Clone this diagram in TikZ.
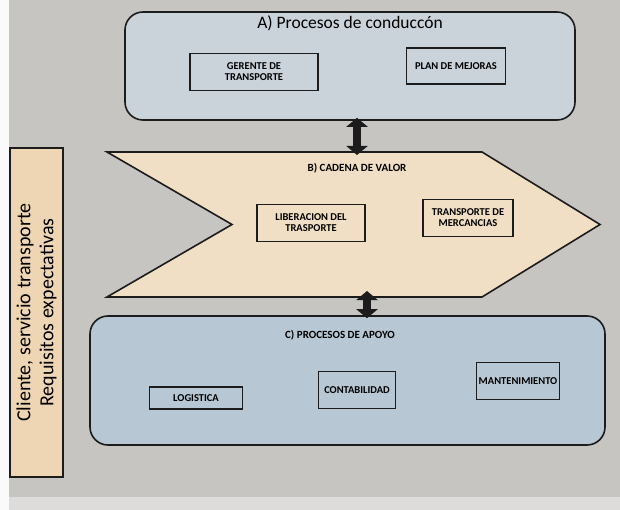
\documentclass[tikz,border=0pt]{standalone}
\usepackage{fontspec}
\setmainfont{Carlito}
\usetikzlibrary{positioning,arrows.meta}
\definecolor{fondo}{HTML}{C7C5C2}
\definecolor{azulA}{HTML}{CAD3DA}
\definecolor{azulC}{HTML}{B7C7D3}
\definecolor{crema}{HTML}{F1DFC5}
\definecolor{cremaL}{HTML}{EED6B4}
\definecolor{tinta}{HTML}{1C1C1C}

\begin{document}
\begin{tikzpicture}[x=1pt, y=-1pt, line width=1.6pt,
  grupo/.style = {draw=tinta, rounded corners=18pt},
  caja/.style = {draw=tinta, align=center, inner sep=1pt, font=\fontsize{10.5}{11}\selectfont\bfseries},
  titulo/.style = {font=\fontsize{11}{12}\selectfont\bfseries},
  flecha/.style = {draw=tinta, line width=8pt, shorten <=-3pt, shorten >=-3pt,
    {Triangle[width=21pt,length=9pt]}-{Triangle[width=21pt,length=9pt]}}]
  \useasboundingbox (0,0) rectangle (620,510);
  \fill[fondo] (0,0) rectangle (620,510);
  \fill[white!92!fondo] (0,0) rectangle (9,510);
  \fill[fondo!60!white] (9,497) rectangle (620,510);

  \node[draw=tinta, fill=cremaL, rotate=90, minimum width=329, minimum height=53, align=center,
        inner sep=1pt, font=\fontsize{20}{23}\selectfont] (cliente) at (36.5,312.5) {Cliente, servicio transporte\\Requisitos expectativas};

  \node[grupo, fill=azulA, minimum width=450, minimum height=108] (procA) at (350,66) {};
  \node[font=\fontsize{17.5}{18}\selectfont, below=0pt of procA.north] (tituloA) {A) Procesos de conducc\'on};
  \node[caja, minimum width=128, minimum height=37] (gerente) at (254,72) {GERENTE DE\\TRANSPORTE};
  \node[caja, minimum width=99, minimum height=36] (mejoras) at (456,66) {PLAN DE MEJORAS};

  \draw[tinta, fill=crema] (107,152) coordinate (cvA) -- (482,152) -- (600,224.5) -- (482,297)
    -- (107,297) -- (232,224.5) -- cycle;
  \coordinate (cadTop) at (357,152);
  \coordinate (cadBot) at (367,294);
  \node[titulo] (tituloB) at (357,168) {B) CADENA DE VALOR};
  \node[caja, minimum width=108, minimum height=37] (liberacion) at (311,223) {LIBERACION DEL\\TRASPORTE};
  \node[caja, minimum width=90, minimum height=37] (mercancias) at (468,218) {TRANSPORTE DE\\MERCANCIAS};

  \node[grupo, fill=azulC, minimum width=515, minimum height=129] (procC) at (347.5,380.5) {};
  \node[titulo] (tituloC) at (340,335) {C) PROCESOS DE APOYO};
  \node[caja, minimum width=93, minimum height=22] (logistica) at (196,398) {LOGISTICA};
  \node[caja, minimum width=77, minimum height=37] (contab) at (357,390) {CONTABILIDAD};
  \node[caja, minimum width=83, minimum height=37] (manten) at (518,381) {MANTENIMIENTO};

  \draw[flecha] ([xshift=7pt]procA.south) -- (cadTop);
  \draw[flecha] (cadBot) -- ([xshift=19.5pt]procC.north);
\end{tikzpicture}
\end{document}
